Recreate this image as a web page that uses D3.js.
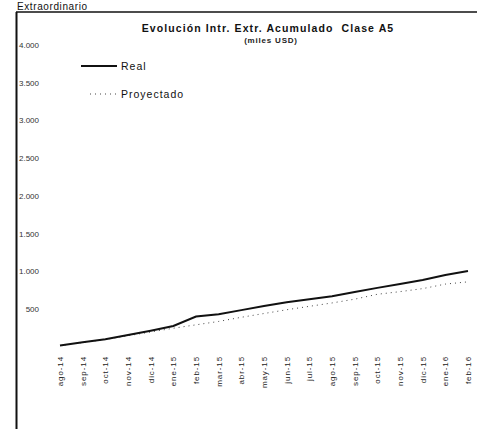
<!DOCTYPE html>
<html><head><meta charset="utf-8">
<script src="https://cdn.jsdelivr.net/npm/d3@7"></script>
<style>html,body{margin:0;padding:0;background:#fff;}svg{display:block;font-family:"Liberation Sans",Arial,sans-serif;}</style>
</head><body>
<svg id="c" width="477" height="429"></svg>
<script>
const months = ["ago-14","sep-14","oct-14","nov-14","dic-14","ene-15","feb-15","mar-15","abr-15","may-15","jun-15","jul-15","ago-15","sep-15","oct-15","nov-15","dic-15","ene-16","feb-16"];
const real = [15, 60, 100, 155, 212, 275, 400, 430, 485, 540, 590, 630, 670, 725, 780, 830, 885, 950, 1005];
const proyectado = [15, 55, 95, 145, 195, 245, 290, 335, 390, 440, 490, 535, 580, 630, 695, 730, 770, 830, 860];
const yTicks = [500, 1000, 1500, 2000, 2500, 3000, 3500, 4000];
const seriesNames = ["Real", "Proyectado"];

const svg = d3.select("#c");
const x = d3.scalePoint().domain(months).range([60, 468]);
const y = d3.scaleLinear().domain([0, 4000]).range([346.7, 45]);
const fmt = v => d3.format(",")(v).replace(/,/g, ".");

// outer frame
svg.append("line").attr("x1",16).attr("x2",477).attr("y1",12).attr("y2",12).attr("stroke","#111").attr("stroke-width",1.5);
svg.append("line").attr("x1",16.5).attr("x2",16.5).attr("y1",12).attr("y2",429).attr("stroke","#111").attr("stroke-width",2);

// header
svg.append("text").attr("x",17).attr("y",9.5).attr("font-size",10).attr("letter-spacing",0.6).attr("fill","#111").text("Extraordinario");

// title
svg.append("text").attr("x",268).attr("y",32).attr("text-anchor","middle").attr("font-size",10.5).attr("letter-spacing",1.1).attr("font-weight","bold").attr("fill","#111").style("white-space","pre").text("Evolución Intr. Extr. Acumulado  Clase A5");
svg.append("text").attr("x",271).attr("y",43).attr("text-anchor","middle").attr("font-size",8).attr("letter-spacing",0.8).attr("font-weight","bold").attr("fill","#222").text("(miles USD)");

// y axis labels
const yAxis = d3.axisLeft(y).tickValues(yTicks).tickFormat(fmt).tickSize(0).tickPadding(0);
const ga = svg.append("g").attr("transform","translate(39,0)").call(yAxis);
ga.select(".domain").remove();
ga.selectAll("text").attr("font-size",8).attr("fill","#333").attr("font-family","Liberation Sans, Arial, sans-serif");

// x axis labels
const xAxis = d3.axisBottom(x).tickSize(0).tickPadding(0);
const gx = svg.append("g").attr("transform","translate(0,355)").call(xAxis);
gx.select(".domain").remove();
gx.selectAll("text").attr("font-size",8).attr("letter-spacing",0.9).attr("fill","#222").attr("font-family","Liberation Sans, Arial, sans-serif")
  .attr("transform","rotate(-90)").attr("text-anchor","end").attr("dy","0.32em").attr("x",-1).attr("y",0);

// lines
const lineGen = d3.line().x((d,i)=>x(months[i])).y(d=>y(d));
svg.append("path").datum(proyectado).attr("d",lineGen).attr("fill","none").attr("stroke","#444").attr("stroke-width",1).attr("stroke-dasharray","1,4");
svg.append("path").datum(real).attr("d",lineGen).attr("fill","none").attr("stroke","#111").attr("stroke-width",2);

// legend
const lg = svg.append("g");
lg.append("line").attr("x1",81).attr("x2",117).attr("y1",66).attr("y2",66).attr("stroke","#111").attr("stroke-width",2);
lg.append("text").attr("x",121).attr("y",70).attr("font-size",10.5).attr("letter-spacing",1).attr("fill","#111").text(seriesNames[0]);
lg.append("line").attr("x1",90).attr("x2",117).attr("y1",94).attr("y2",94).attr("stroke","#444").attr("stroke-width",1).attr("stroke-dasharray","1,4");
lg.append("text").attr("x",121).attr("y",98).attr("font-size",10.5).attr("letter-spacing",1).attr("fill","#111").text(seriesNames[1]);
</script>
</body></html>
